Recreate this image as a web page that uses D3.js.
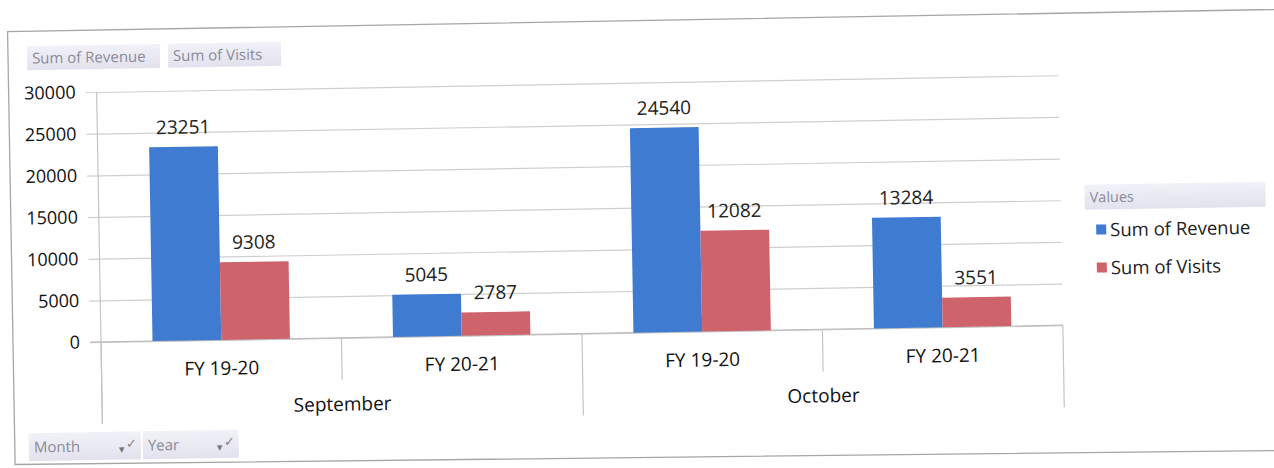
<!DOCTYPE html>
<html>
<head>
<meta charset="utf-8">
<script src="https://cdn.jsdelivr.net/npm/d3@7"></script>
<style>
  html, body { margin: 0; padding: 0; background: #ffffff; }
  svg { display: block; }
  text { font-family: "Open Sans", "Noto Sans", sans-serif; }
</style>
</head>
<body>
<svg id="chart" width="1274" height="468"></svg>
<script>
// ---- data ----
const months = ["September", "October"];
const years = ["FY 19-20", "FY 20-21"];
const seriesNames = ["Sum of Revenue", "Sum of Visits"];
const revenue = [23251, 5045, 24540, 13284];
const visits = [9308, 2787, 12082, 3551];
const yTicks = [0, 5000, 10000, 15000, 20000, 25000, 30000];
const rowFields = ["Month", "Year"];
const legendTitle = "Values";

const colors = ["#3f7bd0", "#cf636c"];

// category keys (month x year)
const cats = [];
months.forEach(m => years.forEach(yr => cats.push({ month: m, year: yr, key: m + "|" + yr })));
const rows = cats.map((c, i) => ({ ...c, values: [revenue[i], visits[i]] }));

const svg = d3.select("#chart");
const root = svg.append("g").attr("transform", "rotate(-1, 101, 342)");

const plotL = 101, plotR = 1063, plotT = 92, plotB = 342;

// outer chart border (scanned page: slightly skewed)
root.append("path")
  .attr("d", "M1420,30 L13,30 L13,463 L1274,471 L1420,472")
  .attr("fill", "none").attr("stroke", "#a6a6a6").attr("stroke-width", 1.3);

const x0 = d3.scaleBand().domain(cats.map(c => c.key)).range([plotL, plotR]).padding(0);
const x1 = d3.scaleBand().domain(seriesNames).range([0, x0.bandwidth()]).paddingInner(0).paddingOuter(0.75);
const y = d3.scaleLinear().domain([0, 30000]).range([plotB, plotT]);

// y axis with gridlines
const yAxis = d3.axisLeft(y).tickValues(yTicks).tickFormat(d3.format("d"))
  .tickSizeInner(-(plotR - 90)).tickSizeOuter(0).tickPadding(10);
const ag = root.append("g").attr("transform", "translate(90,0)").call(yAxis);
ag.select(".domain").remove();
ag.selectAll(".tick line").attr("stroke", "#cfcfcf").attr("stroke-width", 1.2);
ag.selectAll(".tick text").attr("font-size", 18).attr("fill", "#111");

// vertical axis line
root.append("line").attr("x1", plotL).attr("x2", plotL).attr("y1", plotT).attr("y2", 424)
  .attr("stroke", "#c4c4c4").attr("stroke-width", 1.2);
// baseline
root.append("line").attr("x1", 90).attr("x2", plotR).attr("y1", y(0)).attr("y2", y(0))
  .attr("stroke", "#bdbdbd").attr("stroke-width", 1.2);

// bars
const groups = root.selectAll(".grp").data(rows).enter().append("g")
  .attr("transform", d => `translate(${x0(d.key)},0)`);
groups.selectAll("rect").data(d => d.values.map((v, i) => ({ v, s: seriesNames[i], i })))
  .enter().append("rect")
  .attr("x", d => x1(d.s)).attr("width", x1.bandwidth())
  .attr("y", d => y(d.v)).attr("height", d => y(0) - y(d.v))
  .attr("fill", d => colors[d.i]);
groups.selectAll("text.lbl").data(d => d.values.map((v, i) => ({ v, s: seriesNames[i], i })))
  .enter().append("text").attr("class", "lbl")
  .attr("x", d => x1(d.s) + x1.bandwidth() / 2).attr("y", d => y(d.v) - 13)
  .attr("text-anchor", "middle").attr("font-size", 19).attr("fill", "#222")
  .text(d => d.v);

// category axis: year labels and separators
root.selectAll(".ylab").data(rows).enter().append("text")
  .attr("x", d => x0(d.key) + x0.bandwidth() / 2).attr("y", 377)
  .attr("text-anchor", "middle").attr("font-size", 19).attr("fill", "#111")
  .text(d => d.year);

rows.forEach((d, i) => {
  const xs = x0(d.key);
  const isMonthStart = years.indexOf(d.year) === 0;
  root.append("line").attr("x1", xs).attr("x2", xs)
    .attr("y1", plotB).attr("y2", isMonthStart ? 424 : 384)
    .attr("stroke", "#c4c4c4").attr("stroke-width", 1.2);
});
root.append("line").attr("x1", plotR).attr("x2", plotR).attr("y1", plotB).attr("y2", 424)
  .attr("stroke", "#c4c4c4").attr("stroke-width", 1.2);

// month labels
months.forEach(m => {
  const ks = cats.filter(c => c.month === m).map(c => c.key);
  const xa = x0(ks[0]), xb = x0(ks[ks.length - 1]) + x0.bandwidth();
  root.append("text").attr("x", (xa + xb) / 2).attr("y", 415)
    .attr("text-anchor", "middle").attr("font-size", 19).attr("fill", "#111").text(m);
});

// field buttons
const defs = svg.append("defs");
const gr = defs.append("linearGradient").attr("id", "btn").attr("x1", 0).attr("x2", 0).attr("y1", 0).attr("y2", 1);
gr.append("stop").attr("offset", "0%").attr("stop-color", "#f1f1f8");
gr.append("stop").attr("offset", "100%").attr("stop-color", "#e2e2ee");

function button(x, yy, w, h, label, fs, dropdown) {
  const g = root.append("g");
  g.append("rect").attr("x", x).attr("y", yy).attr("width", w).attr("height", h)
    .attr("fill", "url(#btn)").attr("rx", 1);
  g.append("text").attr("x", x + 5).attr("y", yy + h / 2 + fs * 0.36)
    .attr("font-size", fs).attr("fill", "#8b8b98").text(label);
  if (dropdown) {
    g.append("text").attr("x", x + w - 22).attr("y", yy + h / 2 + 7)
      .attr("font-size", 11).attr("fill", "#777").text("\u25BE");
    g.append("text").attr("x", x + w - 15).attr("y", yy + h / 2 + 2)
      .attr("font-size", 13).attr("fill", "#888").text("\u2713");
  }
}
button(32, 45, 133, 24, seriesNames[0], 15, false);
button(173, 45, 113, 24, seriesNames[1], 15, false);
button(27, 432, 112, 28, rowFields[0], 15, true);
button(141, 432, 96, 28, rowFields[1], 15, true);

// legend
button(1087, 202, 181, 25, legendTitle, 14.5, false);
seriesNames.forEach((s, i) => {
  const ly = 247 + i * 38;
  root.append("rect").attr("x", 1098).attr("y", ly - 5).attr("width", 10).attr("height", 10)
    .attr("fill", colors[i]);
  root.append("text").attr("x", 1112).attr("y", ly + 7).attr("font-size", 18.5)
    .attr("fill", "#222").text(s);
});
</script>
</body>
</html>
